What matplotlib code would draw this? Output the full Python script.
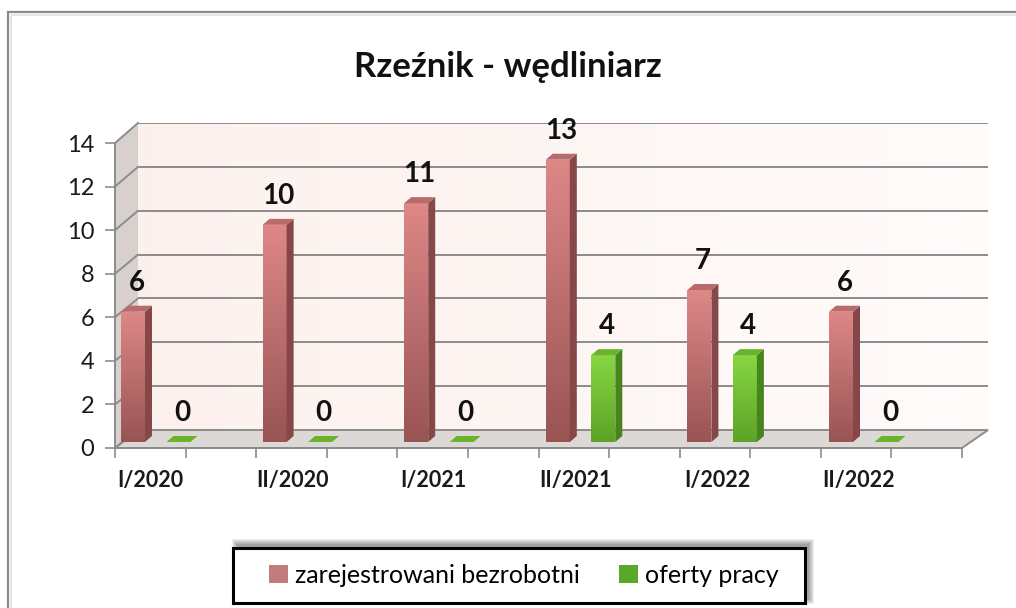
import numpy as np
import matplotlib
matplotlib.use("Agg")
import matplotlib.pyplot as plt
from matplotlib.patches import Polygon, Rectangle

plt.rcParams['font.family'] = ['Lato', 'DejaVu Sans']

# dane
categories = ['I/2020', 'II/2020', 'I/2021', 'II/2021', 'I/2022', 'II/2022']
bezrobotni = [6, 10, 11, 13, 7, 6]
oferty = [0, 0, 0, 4, 4, 0]
series_names = ['zarejestrowani bezrobotni', 'oferty pracy']
yticks = [0, 2, 4, 6, 8, 10, 12, 14]

W, H = 1016, 608
fig = plt.figure(figsize=(W / 100, H / 100), dpi=100)


def px_axes(x0, y0, x1, y1):
    # pixel box (top-left origin) -> figure axes
    return fig.add_axes([x0 / W, (H - y1) / H, (x1 - x0) / W, (y1 - y0) / H])


# tlo: ramka, sciana lewa, podloga
bg = px_axes(0, 0, W, H)
bg.set_xlim(0, W)
bg.set_ylim(H, 0)
bg.axis('off')
bg.set_zorder(0)
bg.plot([8, 8, W], [H, 12, 12], color='#8a8a8a', lw=1.6, solid_joinstyle='miter',
        solid_capstyle='butt')
bg.plot([10.5, 10.5, W], [H, 14.5, 14.5], color='#e6e6e6', lw=1.5, solid_capstyle='butt')
bg.add_patch(Polygon([(115, 448), (115, 143), (138, 123), (138, 430)],
                     closed=True, facecolor='#d7d0cd', edgecolor='none'))
bg.add_patch(Polygon([(115, 448), (962, 448), (988, 430), (138, 430)],
                     closed=True, facecolor='#dcd8d6', edgecolor='#8c8c8c', lw=1.4))
for k in yticks:
    yf = 448 - k / 14 * 305
    yb = 430 - k / 14 * 307
    bg.plot([115, 138], [yf, yb], color='#8c8c8c', lw=1.4)

# tylna sciana
back = px_axes(138, 123, 988, 430)
back.set_zorder(1)
wall = np.zeros((2, 64, 3))
wall[:, :, 0] = np.linspace(0.99, 1.0, 64)
wall[:, :, 1] = np.linspace(0.945, 0.985, 64)
wall[:, :, 2] = np.linspace(0.93, 0.98, 64)
back.imshow(wall, extent=[0, 1, 0, 14], aspect='auto', origin='lower', zorder=0)
back.set_xlim(0, 1)
back.set_ylim(0, 14)
back.set_yticks(yticks)
back.set_xticks([])
back.tick_params(left=False, labelleft=False)
back.grid(axis='y', color='#8c8c8c', lw=1.4)
for s in back.spines.values():
    s.set_visible(False)

# przednia os z opisami
front = px_axes(115, 143, 962, 448)
front.set_zorder(2)
front.patch.set_visible(False)
front.set_ylim(0, 14)
front.set_xlim(0, 12)
front.set_yticks(yticks)
front.set_xticks(range(13))
front.set_xticklabels([])
front.tick_params(axis='y', length=7, width=1.2, color='#8c8c8c', pad=8, labelsize=17, labelcolor='#1a1a1a')
front.tick_params(axis='x', length=7, width=1.2, color='#8c8c8c')
for name in ['top', 'right']:
    front.spines[name].set_visible(False)
for name in ['left', 'bottom']:
    front.spines[name].set_color('#8c8c8c')
    front.spines[name].set_linewidth(1.4)

# slupki
ax = px_axes(115, 138, 962, 442)
ax.set_zorder(3)
ax.patch.set_visible(False)
slot = 141.6
x_lo, x_hi = (115 - 155.5) / slot, (962 - 155.5) / slot
PX_X = 1 / slot
PX_Y = 14 / 304
ddx, ddy = 7 * PX_X, 6 * PX_Y
bw = 24 * PX_X
x = np.arange(len(categories))

styles = [
    dict(vals=bezrobotni, off=-22.5 * PX_X, top=(0.87, 0.53, 0.53), bot=(0.60, 0.33, 0.33),
         side=(0.52, 0.28, 0.28), cap=(0.72, 0.42, 0.42), legend='#c27c7b'),
    dict(vals=oferty, off=23 * PX_X, top=(0.53, 0.84, 0.26), bot=(0.36, 0.64, 0.15),
         side=(0.28, 0.52, 0.11), cap=(0.42, 0.70, 0.18), legend='#5aa82a'),
]

handles = []
for st, name in zip(styles, series_names):
    xs = x + st['off']
    bars = ax.bar(xs, st['vals'], width=bw, color=st['legend'], zorder=2, label=name)
    handles.append(bars)
    for xi, v, patch in zip(xs, st['vals'], bars.patches):
        x0, x1 = xi - bw / 2, xi + bw / 2
        if v > 0:
            g = np.linspace(0, 1, 64)[:, None, None]
            img = np.array(st['bot']) * (1 - g) + np.array(st['top']) * g
            img = np.repeat(img, 2, axis=1)
            im = ax.imshow(img, extent=[x0, x1, 0, v], aspect='auto', origin='lower',
                           zorder=3, interpolation='bilinear')
            im.set_clip_path(patch)
            ax.add_patch(Polygon([(x1, 0), (x1 + ddx, ddy), (x1 + ddx, v + ddy), (x1, v)],
                                 closed=True, facecolor=st['side'], edgecolor='none', zorder=3))
        ax.add_patch(Polygon([(x0, v), (x1, v), (x1 + ddx, v + ddy), (x0 + ddx, v + ddy)],
                             closed=True, facecolor=st['cap'], edgecolor='none', zorder=3))
        ax.annotate(str(v), (xi + ddx / 2, v), xytext=(0, 29), textcoords='offset pixels',
                    ha='center', va='center', fontsize=20, fontweight='bold', color='#111111')

ax.set_xlim(x_lo, x_hi)
ax.set_ylim(0, 14)
ax.set_xticks(x - 5 * PX_X)
ax.set_xticklabels(categories, fontsize=15.5, fontweight='bold', color='#1a1a1a')
ax.tick_params(axis='x', length=0, pad=20)
ax.set_yticks([])
for s in ax.spines.values():
    s.set_visible(False)

# tytul
fig.text(508 / W, 1 - 67 / H, 'Rzeźnik - wędliniarz', ha='center', va='center',
         fontsize=25, fontweight='bold', color='#111111')

# legenda z cieniem
for i in range(6):
    bg.add_patch(Rectangle((233 + 4 - i, 548 - 4 - i), 572 + 2 * i, 55 + 2 * i,
                           facecolor='black', edgecolor='none', alpha=0.07, zorder=1))
bg.add_patch(Rectangle((233, 548), 572, 55, facecolor='white', edgecolor='black', lw=2.2, zorder=2))
leg = fig.legend(handles, series_names, loc='center', bbox_to_anchor=(524 / W, 1 - 575.5 / H),
                 ncol=2, frameon=False, fontsize=18, handlelength=0.75, handleheight=0.75,
                 handletextpad=0.3, columnspacing=1.55)

fig.savefig('out.png', dpi=100)
